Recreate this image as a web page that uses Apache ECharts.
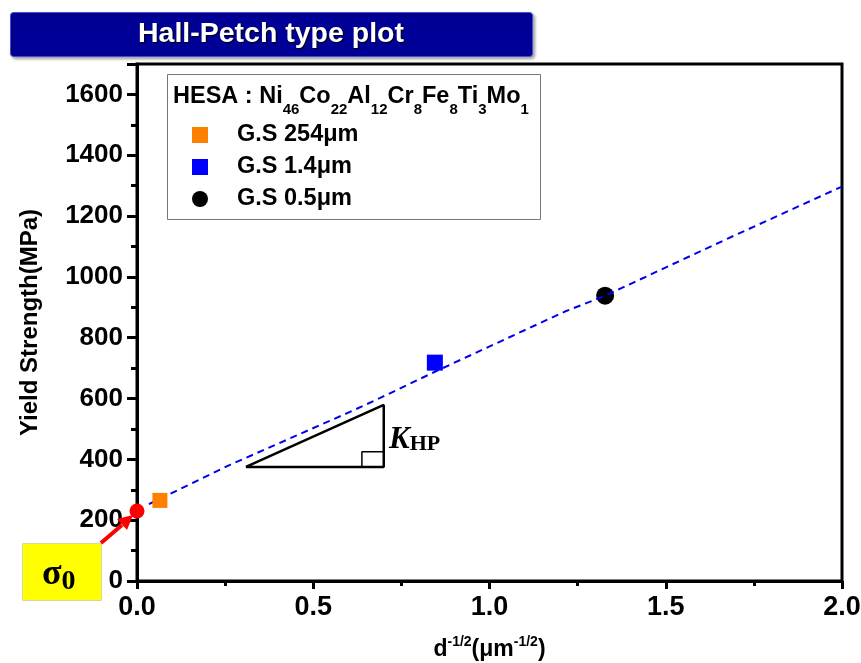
<!DOCTYPE html>
<html>
<head>
<meta charset="utf-8">
<script src="https://cdn.jsdelivr.net/npm/echarts@6/dist/echarts.min.js"></script>
<style>
  html, body { margin: 0; padding: 0; background: #fff; }
  #chart { width: 861px; height: 663px; }
</style>
</head>
<body>
<div id="chart"></div>
<script>
// measured points (d^-1/2 in um^-1/2, yield strength in MPa)
const grainLabels = ['G.S 254μm', 'G.S 1.4μm', 'G.S 0.5μm']
const invSqrtD = [0.065, 0.845, 1.328]
const strength = [265, 718, 938]
const sigma0 = [0, 230]

// dashed Hall-Petch fit
const fitX = [0.034, 0.264, 0.604, 0.69, 0.845, 1.214, 1.328, 1.674, 2.0]
const fitY = [253, 382, 556, 602, 688, 886, 938, 1125, 1297]

// slope triangle + right-angle mark
const triX = [0.309, 0.70, 0.70, 0.309]
const triY = [375, 375, 579, 375]
const cornerX = [0.638, 0.638, 0.70]
const cornerY = [375, 425, 425]

const xTicks = [0, 0.5, 1.0, 1.5, 2.0]
const yTicks = [0, 200, 400, 600, 800, 1000, 1200, 1400, 1600]

const FONT = 'Liberation Sans, Arial, sans-serif'
const SERIF = 'Liberation Serif, Times New Roman, serif'

const pairs = (xs, ys) => xs.map((x, i) => [x, ys[i]])

const chart = echarts.init(document.getElementById('chart'))

chart.setOption({
  animation: false,
  backgroundColor: '#fff',
  grid: {
    left: 137, right: 19, top: 64, bottom: 82,
    containLabel: false, outerBoundsMode: 'none',
    show: true, borderColor: '#000', borderWidth: 3, backgroundColor: 'transparent',
  },
  legend: {
    data: grainLabels,
    orient: 'vertical',
    left: 192, top: 123,
    padding: 0,
    itemWidth: 16, itemHeight: 16, itemGap: 8,
    selectedMode: false,
    textStyle: { fontFamily: FONT, fontSize: 23.5, fontWeight: 'bold', color: '#000', lineHeight: 23, padding: [0, 0, 0, 24] },
    z: 20,
  },
  xAxis: {
    type: 'value',
    min: 0, max: 2, interval: 0.5,
    name: '{b|d}{s|-1/2}{b|(μm}{s|-1/2}{b|)}',
    nameLocation: 'middle',
    nameGap: 54,
    nameTextStyle: {
      rich: {
        b: { fontFamily: FONT, fontSize: 23, fontWeight: 'bold', color: '#000', lineHeight: 30 },
        s: { fontFamily: FONT, fontSize: 14, fontWeight: 'bold', color: '#000', lineHeight: 14, verticalAlign: 'top' },
      },
    },
    axisLine: { onZero: false, lineStyle: { color: '#000', width: 3 } },
    axisTick: { length: 8, lineStyle: { width: 3, color: '#000' } },
    minorTick: { show: true, splitNumber: 2, length: 5, lineStyle: { width: 3, color: '#000' } },
    splitLine: { show: false },
    axisLabel: {
      margin: 13, color: '#000', fontFamily: FONT, fontSize: 27, fontWeight: 'bold',
      formatter: v => xTicks.includes(v) ? v.toFixed(1) : '',
    },
  },
  yAxis: [
    {
      type: 'value', position: 'left',
      min: 0, max: 1700, interval: 200,
      name: 'Yield Strength(MPa)',
      nameLocation: 'middle',
      nameGap: 95,
      nameTextStyle: { fontFamily: FONT, fontSize: 24, fontWeight: 'bold', color: '#000' },
      axisLine: { onZero: false, lineStyle: { color: '#000', width: 3 } },
      axisTick: { length: 10, lineStyle: { width: 3, color: '#000' } },
      splitLine: { show: false },
      axisLabel: {
        margin: 14, color: '#000', fontFamily: FONT, fontSize: 26, fontWeight: 'bold',
        formatter: v => yTicks.includes(v) ? String(v) : '',
      },
    },
    {
      // minor ticks every 100
      type: 'value', position: 'left',
      min: 0, max: 1700, interval: 100,
      axisLine: { show: false },
      axisTick: { length: 6, lineStyle: { width: 3, color: '#000' } },
      axisLabel: { show: false },
      splitLine: { show: false },
    },
  ],
  series: [
    {
      name: 'fit', type: 'line', data: pairs(fitX, fitY), symbol: 'none', silent: true, z: 3,
      lineStyle: { color: '#0000ee', width: 2, type: [7, 5] },
    },
    {
      name: 'triangle', type: 'line', data: pairs(triX, triY), symbol: 'none', silent: true,
      lineStyle: { color: '#000', width: 2.5 },
    },
    {
      name: 'corner', type: 'line', data: pairs(cornerX, cornerY), symbol: 'none', silent: true,
      lineStyle: { color: '#000', width: 1.5 },
    },
    {
      name: grainLabels[0], type: 'scatter', symbol: 'rect', symbolSize: 15, z: 4,
      itemStyle: { color: '#ff8000', opacity: 1 }, data: [[invSqrtD[0], strength[0]]],
    },
    {
      name: grainLabels[1], type: 'scatter', symbol: 'rect', symbolSize: 16, z: 2,
      itemStyle: { color: '#0000ff', opacity: 1 }, data: [[invSqrtD[1], strength[1]]],
    },
    {
      name: grainLabels[2], type: 'scatter', symbol: 'circle', symbolSize: 18, z: 2,
      itemStyle: { color: '#000', opacity: 1 }, data: [[invSqrtD[2], strength[2]]],
    },
    {
      name: 'sigma0', type: 'scatter', symbol: 'circle', symbolSize: 15, z: 5,
      itemStyle: { color: '#ff0000', opacity: 1 }, data: [sigma0],
    },
  ],
  graphic: [
    // title banner
    {
      type: 'rect', left: 10, top: 12, z: 10,
      shape: { width: 522, height: 44, r: 3 },
      style: { fill: '#000096', stroke: '#4a4ad0', lineWidth: 1, shadowColor: 'rgba(0,0,0,0.35)', shadowBlur: 3, shadowOffsetX: 2, shadowOffsetY: 2 },
    },
    {
      type: 'text', x: 271, y: 34, z: 11,
      style: {
        text: 'Hall-Petch type plot', x: 0, y: 0, align: 'center', verticalAlign: 'middle',
        fill: '#fff', font: 'bold 28.5px ' + FONT,
        textShadowColor: '#000', textShadowOffsetX: 1, textShadowOffsetY: 1, textShadowBlur: 1,
      },
    },
    // legend frame + heading
    {
      type: 'rect', left: 167, top: 74, z: 8,
      shape: { width: 373, height: 145 },
      style: { fill: '#fff', stroke: '#777', lineWidth: 1 },
    },
    {
      type: 'text', x: 173, y: 97, z: 12,
      style: {
        text: '{m|HESA : Ni}{s|46}{m|Co}{s|22}{m|Al}{s|12}{m|Cr}{s|8}{m|Fe}{s|8}{m|Ti}{s|3}{m|Mo}{s|1}',
        verticalAlign: 'middle',
        rich: {
          m: { fontFamily: FONT, fontSize: 23.5, fontWeight: 'bold', fill: '#000', lineHeight: 40 },
          s: { fontFamily: FONT, fontSize: 15, fontWeight: 'bold', fill: '#000', lineHeight: 15, verticalAlign: 'bottom' },
        },
      },
    },
    // K_HP label
    {
      type: 'text', x: 389, y: 440, z: 12,
      style: {
        text: '{k|K}{s|HP}', verticalAlign: 'middle',
        rich: {
          k: { fontFamily: SERIF, fontSize: 31, fontWeight: 'bold', fontStyle: 'italic', fill: '#000', lineHeight: 30 },
          s: { fontFamily: SERIF, fontSize: 22, fontWeight: 'bold', fill: '#000', lineHeight: 20, verticalAlign: 'bottom' },
        },
      },
    },
    // sigma0 callout
    {
      type: 'rect', left: 22, top: 543, z: 10,
      shape: { width: 79, height: 57 },
      style: { fill: '#ffff00', stroke: '#d8d8a0', lineWidth: 1 },
    },
    {
      type: 'text', x: 42, y: 575, z: 11,
      style: {
        text: '{g|σ}{z|0}', verticalAlign: 'middle',
        rich: {
          g: { fontFamily: SERIF, fontSize: 36, fontWeight: 'bold', fill: '#000', lineHeight: 42 },
          z: { fontFamily: SERIF, fontSize: 28, fontWeight: 'bold', fill: '#000', lineHeight: 24, verticalAlign: 'bottom' },
        },
      },
    },
    {
      type: 'line', z: 11,
      shape: { x1: 101, y1: 543, x2: 122, y2: 525 },
      style: { stroke: '#ff0000', lineWidth: 4 },
    },
    {
      type: 'polygon', z: 11,
      shape: { points: [[133, 515], [127, 530], [117, 519]] },
      style: { fill: '#ff0000' },
    },
  ],
})
</script>
</body>
</html>
